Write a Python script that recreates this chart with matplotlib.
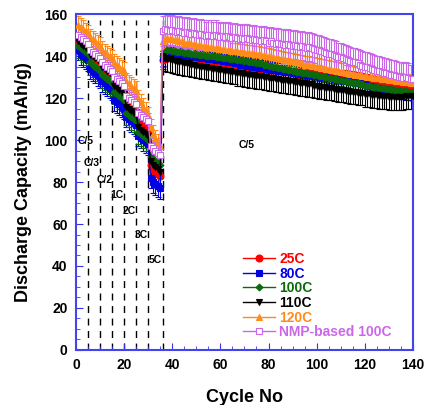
import numpy as np
import matplotlib
matplotlib.use('Agg')
import matplotlib.pyplot as plt

plt.rcParams['font.family'] = ['Liberation Sans', 'DejaVu Sans']
plt.rcParams['font.weight'] = 'bold'

cycles = np.arange(1, 141)

# discharge capacity (mAh/g), cycles 1-35 rate test, 36-140 at C/5
cap_25c = [146, 145, 144, 143, 142, 139, 138, 137, 136, 135, 134, 133, 132, 131, 130,
           126, 125, 124, 123, 122, 117, 116, 115, 114, 113, 108, 107, 106, 105, 104,
           88, 86, 85, 84, 83,
           138, 140, 141, 140.5, 140.5, 140, 140, 139.5, 139.5, 139.5,
           139, 139, 139, 138.5, 138.5, 138.5, 138, 138, 137.5, 137.5,
           137.5, 137, 137, 137, 136.5, 136.5, 136.5, 136, 136, 136,
           135.5, 135.5, 135.5, 135, 135, 135, 134.5, 134.5, 134.5, 134.5,
           134, 134, 134, 134, 133.5, 133.5, 133.5, 133.5, 133, 133,
           133, 133, 133, 132.5, 132.5, 132.5, 132.5, 132.5, 132, 132,
           132, 132, 132, 131.5, 131.5, 131.5, 131.5, 131.5, 131, 131,
           131, 131, 131, 130.5, 130.5, 130.5, 130.5, 130, 130, 130,
           129.5, 129.5, 129, 129, 128.5, 128.5, 128, 128, 127.5, 127.5,
           127, 127, 126.5, 126.5, 126, 126, 126, 125.5, 125.5, 125.5,
           125, 125, 125, 124.5, 124.5]
cap_80c = [143, 141, 140, 139, 138, 134, 133, 132, 131, 130, 128, 127, 126, 125, 124,
           119, 118, 117, 116, 115, 111, 110, 109, 108, 107, 102, 101, 100, 99, 98,
           82, 80, 79, 78, 77,
           139, 141, 142, 141.5, 141.5, 141, 141, 141, 140.5, 140.5,
           140.5, 140, 140, 140, 139.5, 139.5, 139, 139, 139, 138.5,
           138.5, 138.5, 138, 138, 138, 137.5, 137.5, 137, 137, 137,
           136.5, 136.5, 136, 136, 136, 135.5, 135.5, 135, 135, 135,
           134.5, 134.5, 134.5, 134, 134, 133.5, 133.5, 133.5, 133, 133,
           133, 132.5, 132.5, 132.5, 132, 132, 132, 131.5, 131.5, 131.5,
           131, 131, 131, 130.5, 130.5, 130.5, 130, 130, 130, 129.5,
           129.5, 129, 129, 128.5, 128.5, 128, 128, 128, 127.5, 127.5,
           127, 127, 127, 126.5, 126.5, 126, 126, 125.5, 125.5, 125,
           125, 124.5, 124.5, 124, 124, 124, 123.5, 123.5, 123, 123,
           123, 122.5, 122.5, 122.5, 122]
cap_100c = [145, 144, 143, 142, 141, 137, 136, 135, 134, 133, 131, 130, 129, 128, 127,
            123, 122, 121, 120, 119, 113, 112, 111, 110, 109, 104, 103, 102, 101, 100,
            92, 91, 90, 89, 88,
            140, 142, 143, 143, 142.5, 142.5, 142, 142, 142, 141.5,
            141.5, 141.5, 141, 141, 141, 140.5, 140.5, 140.5, 140, 140,
            140, 140, 139.5, 139.5, 139.5, 139, 139, 139, 138.5, 138.5,
            138.5, 138, 138, 138, 137.5, 137.5, 137, 137, 137, 136.5,
            136.5, 136.5, 136, 136, 135.5, 135.5, 135, 135, 134.5, 134.5,
            134, 134, 133.5, 133.5, 133, 133, 132.5, 132.5, 132, 132,
            132, 131.5, 131.5, 131, 131, 130.5, 130.5, 130, 130, 129.5,
            129.5, 129, 129, 128.5, 128.5, 128, 128, 127.5, 127.5, 127,
            127, 127, 126.5, 126.5, 126, 126, 126, 125.5, 125.5, 125.5,
            125, 125, 125, 124.5, 124.5, 124.5, 124, 124, 124, 123.5,
            123.5, 123.5, 123, 123, 123]
cap_110c = [147, 146, 145, 144, 143, 141, 140, 139, 138, 137, 135, 134, 133, 132, 131,
            126, 125, 124, 123, 122, 116, 115, 114, 113, 112, 106, 105, 104, 103, 102,
            90, 88, 87, 86, 85,
            140, 139, 138.5, 138.5, 138, 137.5, 137.5, 137, 137, 136.5,
            136.5, 136.5, 136, 136, 135.5, 135.5, 135, 135, 135, 134.5,
            134.5, 134, 134, 134, 133.5, 133.5, 133, 133, 133, 132.5,
            132.5, 132, 132, 132, 131.5, 131.5, 131, 131, 131, 130.5,
            130.5, 130.5, 130, 130, 129.5, 129.5, 129.5, 129, 129, 128.5,
            128.5, 128.5, 128, 128, 128, 127.5, 127.5, 127, 127, 127,
            126.5, 126.5, 126.5, 126, 126, 125.5, 125.5, 125.5, 125, 125,
            125, 124.5, 124.5, 124, 124, 124, 123.5, 123.5, 123, 123,
            123, 122.5, 122.5, 122.5, 122, 122, 122, 121.5, 121.5, 121.5,
            121, 121, 121, 121, 120.5, 120.5, 120.5, 120.5, 120.5, 120.5,
            120.5, 121, 121, 121, 121]
cap_120c = [155, 154, 153, 152, 151, 149, 148, 147, 146, 145, 143, 142, 141, 140, 139,
            137, 136, 135, 134, 133, 128, 127, 126, 125, 124, 120, 118, 116, 114, 112,
            106, 103, 101, 99, 97,
            147, 148, 148.5, 148, 148, 147.5, 147.5, 147, 147, 146.5,
            146.5, 146.5, 146, 146, 145.5, 145.5, 145, 145, 144.5, 144.5,
            144.5, 144, 144, 144, 143.5, 143.5, 143, 143, 143, 142.5,
            142.5, 142.5, 142, 142, 142, 141.5, 141.5, 141.5, 141, 141,
            141, 140.5, 140.5, 140, 140, 139.5, 139.5, 139, 139, 138.5,
            138.5, 138, 138, 137.5, 137.5, 137, 137, 136.5, 136.5, 136,
            136, 136, 135.5, 135.5, 135, 135, 134.5, 134.5, 134, 134,
            133.5, 133.5, 133, 133, 132.5, 132.5, 132, 132, 131.5, 131.5,
            131, 131, 131, 130.5, 130.5, 130, 130, 130, 129.5, 129.5,
            129.5, 129, 129, 129, 128.5, 128.5, 128.5, 128, 128, 128,
            127.5, 127.5, 127.5, 127, 127]
cap_nmp = [150, 149, 148, 147, 146, 143, 142, 141, 140, 139, 137, 136, 135, 134, 133,
           130, 129, 128, 127, 126, 121, 120, 119, 118, 117, 113, 112, 111, 110, 109,
           97, 96, 95, 94, 93,
           152, 153, 152.5, 152, 152.5, 152, 151.5, 152, 151.5, 151,
           151.5, 151, 150.5, 151, 150.5, 150, 150.5, 150, 149.5, 150,
           150, 149.5, 150, 149.5, 149, 149.5, 149, 149.5, 149, 148.5,
           149, 148.5, 148, 148.5, 148, 148.5, 148, 147.5, 148, 147.5,
           147.5, 147, 147.5, 147, 146.5, 147, 146.5, 146, 146.5, 146,
           146, 145.5, 146, 145.5, 145, 145.5, 145, 144.5, 145, 144.5,
           144, 144.5, 144, 143.5, 143, 143, 142.5, 142, 141.5, 141,
           141, 140.5, 140, 139.5, 139.5, 139, 138.5, 138, 137.5, 137,
           137, 136.5, 136, 135.5, 135, 135, 134.5, 134, 133.5, 133,
           133, 132.5, 132, 132, 131.5, 131, 131, 130.5, 130, 130,
           129.5, 130, 129.5, 129, 129]

# error bar half-widths: (rate test, C/5 cycling)
err_25c = (5, 3)
err_80c = (5, 3.5)
err_100c = (6, 2.5)
err_110c = (3, 6)
err_120c = (4, 4)
err_nmp = (4, 7)

labels = ['25C', '80C', '100C', '110C', '120C', 'NMP-based 100C']
rate_lines = [5, 10, 15, 20, 25, 30, 36]
rate_labels = ['C/5', 'C/3', 'C/2', '1C', '2C', '3C', '5C']
rate_label_xy = [(0.8, 99.5), (3.3, 89), (8.7, 81), (14.5, 74), (19.5, 66), (24.5, 55), (30.3, 43)]

series = [cap_25c, cap_80c, cap_100c, cap_110c, cap_120c, cap_nmp]
errs = [err_25c, err_80c, err_100c, err_110c, err_120c, err_nmp]
colors = ['#ff0000', '#0000e0', '#0b6b0b', '#000000', '#ff8c1a', '#cc66e8']
markers = ['o', 's', 'D', 'v', '^', 's']
msizes = [5, 5, 3.5, 5, 5, 5]

fig = plt.figure(figsize=(4.24, 4.05), dpi=100)
ax = fig.add_axes([0.179, 0.136, 0.795, 0.829])

for x in rate_lines:
    ax.plot([x, x], [0, 157], color='black', linestyle=(0, (5, 4)), linewidth=1, zorder=1)

handles = []
for y, e, c, m, ms, lab in zip(series, errs, colors, markers, msizes, labels):
    y = np.array(y, dtype=float)
    yerr = np.where(cycles <= 35, e[0], e[1])
    ax.errorbar(cycles, y, yerr=yerr, fmt='none', ecolor=c, elinewidth=0.8,
                capsize=2, capthick=0.8, zorder=2)
    face = 'white' if lab.startswith('NMP') else c
    h, = ax.plot(cycles, y, color=c, marker=m, markersize=ms, markerfacecolor=face,
                 markeredgecolor=c, markeredgewidth=0.8, linewidth=1, label=lab, zorder=3)
    handles.append(h)

for t, (x, y) in zip(rate_labels, rate_label_xy):
    ax.text(x, y, t, fontsize=7.5, fontweight='bold', va='center', ha='left', zorder=4)
ax.text(67.7, 97.5, 'C/5', fontsize=7.5, fontweight='bold', va='center', ha='left')

leg = ax.legend(handles=handles, loc='upper left', bbox_to_anchor=(0.496, 0.292),
                frameon=False, fontsize=10, borderpad=0, borderaxespad=0,
                handlelength=2.3, handletextpad=0.3, labelspacing=0.05)
for txt, c in zip(leg.get_texts(), colors):
    txt.set_color(c)
    txt.set_fontweight('bold')

ax.set_xlim(0, 140)
ax.set_ylim(0, 160)
ax.set_xticks(np.arange(0, 141, 20))
ax.set_xticks(np.arange(0, 141, 5), minor=True)
ax.set_yticks(np.arange(0, 161, 20))
ax.set_yticks(np.arange(0, 161, 5), minor=True)
ax.tick_params(which='both', direction='in', color='#3333ee', labelsize=10)
ax.tick_params(which='major', length=5, pad=6)
ax.tick_params(which='minor', length=3)
for lbl in ax.get_xticklabels() + ax.get_yticklabels():
    lbl.set_fontweight('bold')
for s in ax.spines.values():
    s.set_color('#4444ee')
    s.set_linewidth(1.5)

ax.set_xlabel('Cycle No', fontsize=13, fontweight='bold', labelpad=12)
ax.set_ylabel('Discharge Capacity (mAh/g)', fontsize=13, fontweight='bold', labelpad=9)

fig.savefig('out.png', dpi=100)
